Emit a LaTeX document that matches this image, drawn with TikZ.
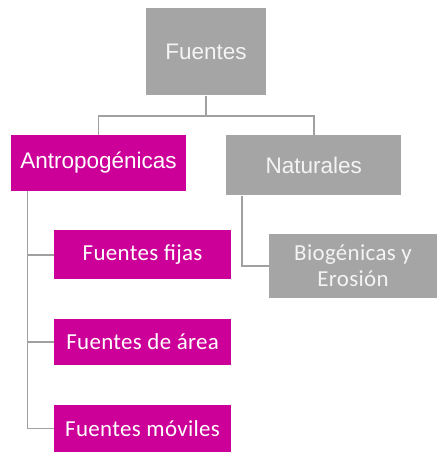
\documentclass[tikz,border=0pt]{standalone}
\usepackage{fontspec}
\setmainfont{Liberation Sans}
\newfontfamily\calib[LetterSpace=1.5]{Carlito}
\definecolor{boxgray}{HTML}{A5A5A5}
\definecolor{magent}{HTML}{CC0099}
\definecolor{linegray}{HTML}{A0A0A0}
\definecolor{softwhite}{HTML}{F4F4F4}
\tikzset{
  box/.style={rectangle, inner sep=0pt, anchor=center, draw=none},
  graybox/.style={box, fill=boxgray, text=softwhite, font=\fontsize{22.6}{26}\selectfont},
  magbox/.style={box, fill=magent, text=white, font=\fontsize{22.6}{26}\selectfont},
  subbox/.style={box, fill=magent, text=white, font=\calib\fontsize{23}{26}\selectfont},
  link/.style={draw=linegray, line width=1.8pt}
}
\begin{document}
\begin{tikzpicture}[x=1bp, y=-1bp]
\useasboundingbox (0,0) rectangle (437,452);
\node[graybox, minimum width=120bp, minimum height=87bp] (fuentes) at (206,52) {Fuentes};
\node[magbox, minimum width=175bp, minimum height=56bp] (antro) at (98.5,163) {Antropogénicas};
\node[graybox, minimum width=175bp, minimum height=60bp] (nat) at (313.8,165.5) {Naturales};
\node[subbox, minimum width=177bp, minimum height=49bp] (fijas) at (142.6,254.7) {Fuentes fijas};
\node[subbox, minimum width=177bp, minimum height=46bp] (area) at (142.6,342) {Fuentes de área};
\node[subbox, minimum width=177bp, minimum height=48bp] (moviles) at (142.6,428.5) {Fuentes móviles};
\node[box, fill=boxgray, text=softwhite, font=\calib\fontsize{23}{26}\selectfont, align=center, minimum width=168bp, minimum height=64bp] (bio) at (353,266) {Biogénicas y\\Erosión};
\draw[link] (fuentes.south) -- ++(0,20.4) -| (antro.north);
\draw[link] (fuentes.south) ++(0,20.4) -| (nat.north);
\draw[link] (antro.south west) ++(16.6,0) |- (moviles.west);
\draw[link] (antro.south west) ++(16.6,0) |- (fijas.west);
\draw[link] (antro.south west) ++(16.6,0) |- (area.west);
\draw[link] (nat.south west) ++(16,0) |- (bio.west);
\end{tikzpicture}
\end{document}
